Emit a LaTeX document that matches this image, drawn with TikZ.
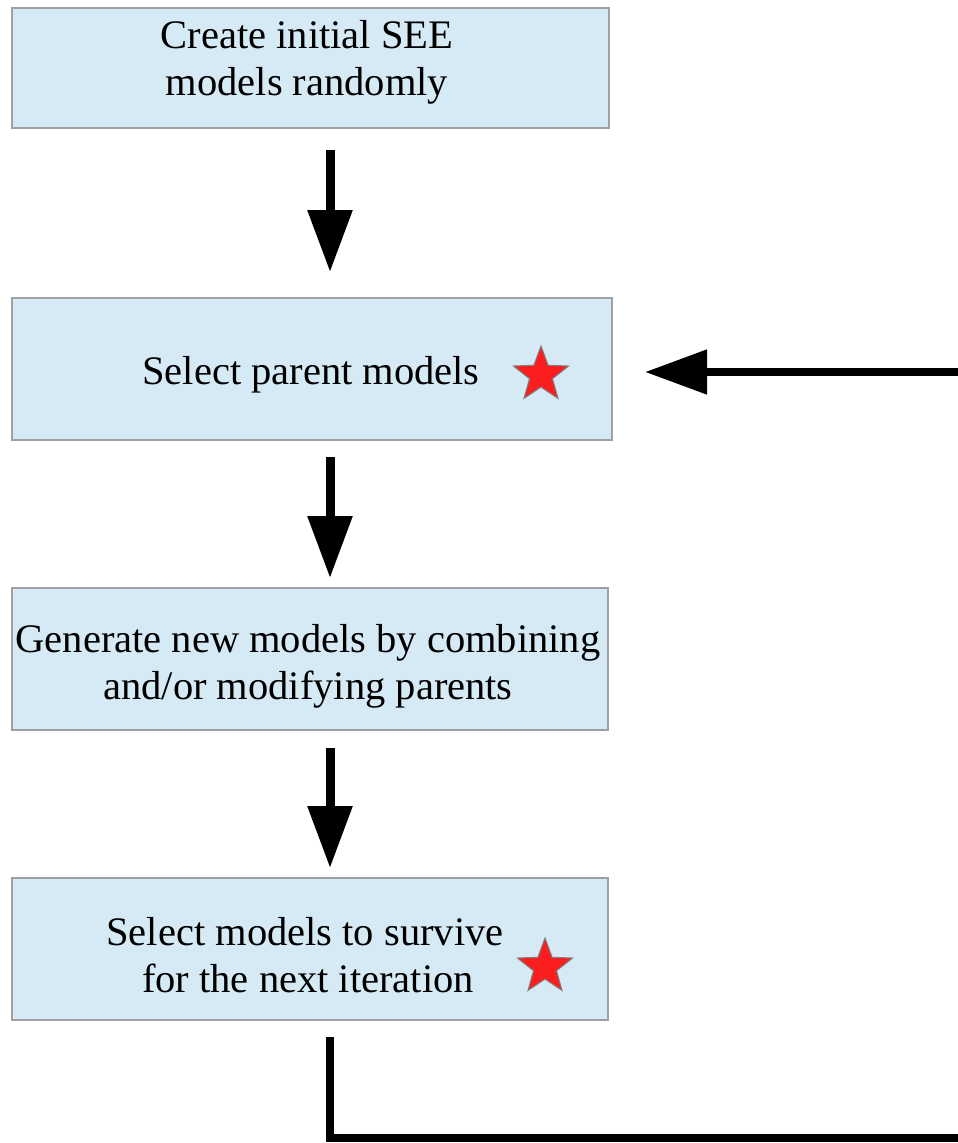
\documentclass[tikz,border=0pt]{standalone}
\usepackage{fontspec}
\setmainfont{Liberation Serif}
\usetikzlibrary{arrows.meta,shapes.geometric}
\definecolor{boxfill}{RGB}{214,234,245}
\definecolor{boxline}{RGB}{160,160,160}
\definecolor{starred}{RGB}{250,30,30}
\begin{document}
\begin{tikzpicture}[x=1pt,y=-1pt,
  box/.style={draw=boxline,line width=2pt,fill=boxfill,inner sep=0pt},
  lbl/.style={inner sep=0pt,align=center,font=\fontsize{40.5}{47}\selectfont},
  arr/.style={line width=9pt,-{Triangle[width=43pt,length=62pt]}},
  loopline/.style={line width=8pt},
  redstar/.style={star,star points=5,star point ratio=2.4,fill=starred,draw=gray,line width=1pt,minimum size=58pt,inner sep=0pt}]
\useasboundingbox (0,0) rectangle (958,1143);
\node[box,minimum width=597pt,minimum height=120pt] (b1) at (310,68) {};
\node[box,minimum width=600pt,minimum height=142pt] (b2) at (312,369) {};
\node[box,minimum width=596pt,minimum height=142pt] (b3) at (310,659) {};
\node[box,minimum width=596pt,minimum height=142pt] (b4) at (310,949) {};
\node[lbl] (t1) at (307,62) {Create initial SEE\\models randomly};
\node[lbl] (t2) at (311,375) {Select parent models};
\node[lbl] (t3) at (308,666) {Generate new models by combining\\and/or modifying parents};
\node[lbl] (t4) at (305,955) {Select models to survive\\\hspace*{6pt}for the next iteration};
\node[redstar] (s2) at (541,375) {};
\node[redstar] (s4) at (545,967) {};
\coordinate (a1s) at (330,150);
\coordinate (a1e) at (330,272);
\coordinate (a2s) at (330,457);
\coordinate (a2e) at (330,578);
\coordinate (a3s) at (330,748);
\coordinate (a3e) at (330,868);
\draw[arr] (a1s) -- (a1e);
\draw[arr] (a2s) -- (a2e);
\draw[arr] (a3s) -- (a3e);
\coordinate (ls) at (330,1037);
\coordinate (lc1) at (330,1138);
\coordinate (lc2) at (961.5,1138);
\coordinate (lc3) at (961.5,372);
\coordinate (le) at (645,372);
\draw[loopline] (ls) -- (lc1) -- (lc2) -- (lc3) -- ([xshift=60pt]le);
\draw[arr,line width=8pt] (lc3) -- (le);
\end{tikzpicture}
\end{document}
